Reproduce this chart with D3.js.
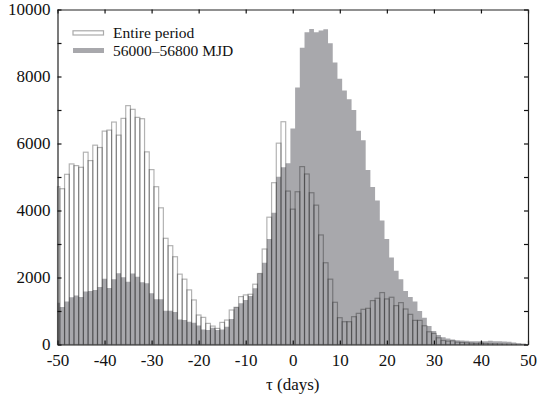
<!DOCTYPE html>
<html>
<head>
<meta charset="utf-8">
<script src="https://cdn.jsdelivr.net/npm/d3@7"></script>
<style>
  html, body { margin: 0; padding: 0; background: #fff; }
  svg text { font-family: "Liberation Serif", "DejaVu Serif", serif; fill: #111; }
</style>
</head>
<body>
<svg id="chart" width="540" height="398"></svg>
<script>
// bin centres, one day wide, -50 ... 50
const binCentres = d3.range(-50, 51);

// "Entire period" (outline bars)
const entirePeriod = [
  4710, 4650, 5080, 5390, 5340, 5290, 5740, 5490, 5950, 5880,
  6370, 6400, 6640, 6250, 6750, 7130, 7020, 6780, 6740, 5750,
  5220, 4710, 4080, 3170, 2950, 2620, 2100, 1950, 1630, 1330,
  880, 810, 630, 550, 480, 660, 730, 1030, 1110, 1430,
  1480, 1500, 1800, 2120, 2850, 3800, 4830, 6010, 6650, 4580,
  4040, 4560, 5310, 5090, 4530, 4160, 3270, 2440, 1950, 1260,
  800, 680, 680, 830, 930, 1050, 1080, 1310, 1380, 1550,
  1360, 1410, 1160, 1250, 1060, 900, 720, 720, 560, 380,
  330, 200, 120, 100, 110, 70, 60, 50, 40, 30,
  40, 30, 20, 20, 15, 10, 10, 5, 5, 5,
  0
];

// "56000–56800 MJD" (filled bars)
const mjdPeriod = [
  1250, 1120, 1280, 1410, 1460, 1420, 1580, 1600, 1630, 1720,
  1960, 1690, 1950, 2130, 2010, 1870, 2120, 2020, 1860, 1830,
  1530, 1350, 1350, 1010, 1010, 970, 750, 730, 680, 650,
  570, 450, 430, 500, 430, 450, 530, 760, 1110, 1230,
  1330, 1450, 1680, 2120, 2440, 3150, 3930, 5010, 5290, 5410,
  6450, 7670, 8860, 9320, 9420, 9320, 9370, 9410, 8990, 8420,
  7930, 7580, 7320, 7000, 6380, 6100, 5210, 4700, 4300, 3700,
  3150, 2600, 2200, 1950, 1600, 1420, 1280, 1000, 800, 550,
  400, 280, 220, 180, 150, 130, 120, 110, 100, 100,
  100, 100, 110, 100, 100, 90, 80, 60, 40, 20,
  10
];

const xTicks = d3.range(-50, 51, 10);
const yTicks = d3.range(0, 10001, 1000);
const yLabels = d3.range(0, 10001, 2000);
const legendLabels = ['Entire period', '56000\u201356800 MJD'];

const width = 540;
const height = 398;
const margin = { top: 9.5, right: 12, bottom: 53.5, left: 57.5 };
const plotW = width - margin.left - margin.right;
const plotH = height - margin.top - margin.bottom;

const serif = '"Liberation Serif", "Times New Roman", serif';
const barFill = '#a8a8ac';
const outlineStroke = 'rgba(0,0,0,0.3)';

const x = d3.scaleLinear().domain([-50, 50]).range([0, plotW]);
const y = d3.scaleLinear().domain([0, 10000]).range([plotH, 0]);

const svg = d3.select('#chart');
const g = svg.append('g')
  .attr('transform', `translate(${margin.left},${margin.top})`);

// bars span centre +/- 0.5, clipped to the axis range
const lo = c => Math.max(-50, c - 0.5);
const hi = c => Math.min(50, c + 0.5);

// filled histogram as one stepped area (no seams between bars)
const steps = binCentres.flatMap((c, i) => [
  { t: lo(c), v: mjdPeriod[i] },
  { t: hi(c), v: mjdPeriod[i] }
]);
const area = d3.area()
  .x(d => x(d.t))
  .y0(y(0))
  .y1(d => y(d.v));

g.append('path')
  .datum(steps)
  .attr('d', area)
  .attr('fill', barFill);

g.append('g')
  .selectAll('rect')
  .data(binCentres.map((c, i) => ({ c, v: entirePeriod[i] })))
  .join('rect')
  .attr('x', d => x(lo(d.c)))
  .attr('width', d => x(hi(d.c)) - x(lo(d.c)))
  .attr('y', d => y(d.v))
  .attr('height', d => y(0) - y(d.v))
  .attr('fill', 'none')
  .attr('stroke', outlineStroke)
  .attr('stroke-width', 1.2);

// axes, ticks pointing inward on all four sides
const axBottom = g.append('g')
  .attr('transform', `translate(0,${plotH})`)
  .call(d3.axisBottom(x).tickValues(xTicks).tickSizeInner(-4).tickSizeOuter(0).tickPadding(9)
    .tickFormat(d3.format('d')));
const axTop = g.append('g')
  .call(d3.axisTop(x).tickValues(xTicks).tickSizeInner(-4).tickSizeOuter(0).tickFormat(''));
const axLeft = g.append('g')
  .call(d3.axisLeft(y).tickValues(yTicks).tickSizeInner(-4).tickSizeOuter(0).tickPadding(7)
    .tickFormat(d => yLabels.includes(d) ? d : ''));
const axRight = g.append('g')
  .attr('transform', `translate(${plotW},0)`)
  .call(d3.axisRight(y).tickValues(yTicks).tickSizeInner(-4).tickSizeOuter(0).tickFormat(''));

[axBottom, axTop, axLeft, axRight].forEach(a => {
  a.attr('font-family', null);
  a.select('.domain').attr('stroke', '#222').attr('stroke-width', 1.2);
  a.selectAll('.tick line').attr('stroke', '#111').attr('stroke-width', 1.2);
  a.selectAll('.tick text')
    .style('font-family', serif)
    .attr('font-size', 17)
    .attr('fill', '#111');
});
axBottom.selectAll('.tick text').text(d => d < 0 ? '-' + Math.abs(d) : d);

// axis title
svg.append('text')
  .attr('x', margin.left + plotW / 2)
  .attr('y', 390)
  .attr('text-anchor', 'middle')
  .style('font-family', serif)
  .attr('font-size', 17)
  .text('\u03c4 (days)');

// legend
const legend = svg.append('g').attr('transform', 'translate(73,0)');
legend.append('rect')
  .attr('x', 0).attr('y', 30.8).attr('width', 30.5).attr('height', 4.2)
  .attr('fill', '#fff').attr('stroke', '#aaa').attr('stroke-width', 1.2);
legend.append('rect')
  .attr('x', 0).attr('y', 48).attr('width', 31).attr('height', 5)
  .attr('fill', barFill);
legend.selectAll('text.lbl')
  .data(legendLabels)
  .join('text')
  .attr('class', 'lbl')
  .attr('x', 40)
  .attr('y', (d, i) => 37.5 + i * 18)
  .style('font-family', serif)
  .attr('font-size', 15.5)
  .text(d => d);
</script>
</body>
</html>
